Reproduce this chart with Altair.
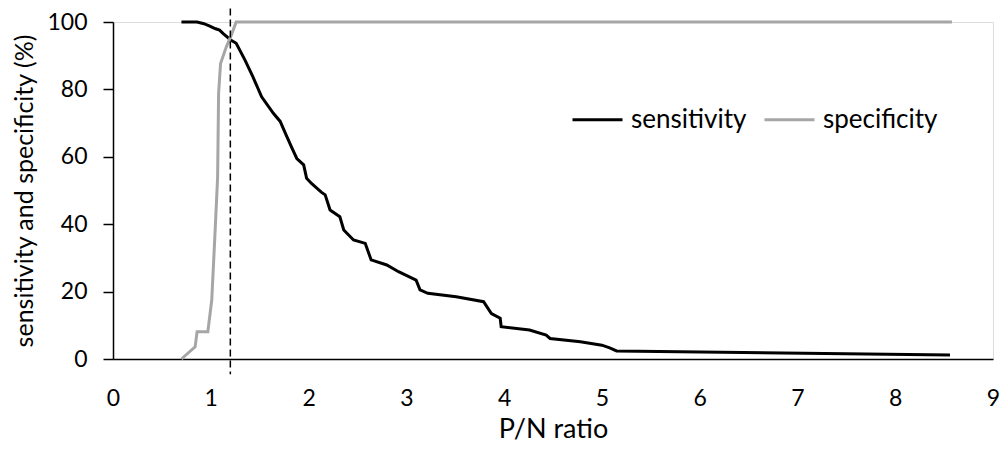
import altair as alt
import pandas as pd

# sensitivity curve (P/N ratio vs %)
sens_x = [0.70, 0.86, 0.93, 0.99, 1.05, 1.09, 1.13, 1.17, 1.20, 1.26, 1.35, 1.43, 1.52,
          1.64, 1.71, 1.77, 1.84, 1.88, 1.95, 1.98, 2.03, 2.13, 2.17, 2.22, 2.32, 2.36,
          2.46, 2.58, 2.64, 2.80, 2.92, 3.10, 3.14, 3.22, 3.51, 3.79, 3.87, 3.96, 3.97,
          4.26, 4.43, 4.47, 4.78, 5.00, 5.08, 5.15, 8.56]
sens_y = [100, 100, 99.5, 98.8, 98.0, 97.6, 96.5, 95.5, 94.7, 93.7, 88.7, 83.8, 77.8,
          72.9, 70.5, 66.5, 62.0, 59.5, 57.6, 53.6, 52.1, 49.5, 48.7, 44.2, 42.2, 38.3,
          35.3, 34.3, 29.4, 27.9, 25.9, 23.4, 20.5, 19.5, 18.5, 17.0, 13.5, 12.1, 9.6,
          8.6, 7.1, 6.1, 5.1, 4.1, 3.3, 2.4, 1.2]

# specificity curve
spec_x = [0.70, 0.84, 0.86, 0.97, 1.01, 1.03, 1.04, 1.07, 1.08, 1.10, 1.16, 1.21, 1.26, 8.58]
spec_y = [0, 3.6, 8.1, 8.1, 17.5, 29.4, 35.3, 54.0, 78.8, 87.7, 92.7, 96.1, 100, 100]

series_names = ["sensitivity", "specificity"]
series_colors = ["#000000", "#a6a6a6"]
x_ticks = [0, 1, 2, 3, 4, 5, 6, 7, 8, 9]
y_ticks = [0, 20, 40, 60, 80, 100]
cutoff = [1.2]
cutoff_span = [104, -4.5]

df = pd.DataFrame({
    "x": sens_x + spec_x,
    "y": sens_y + spec_y,
    "series": ["sensitivity"] * len(sens_x) + ["specificity"] * len(spec_x),
})

FONT = "Lato"

lines = alt.Chart(df).mark_line(strokeWidth=3).encode(
    x=alt.X("x:Q", scale=alt.Scale(domain=[0, 9], nice=False),
            axis=alt.Axis(title="P/N ratio", values=x_ticks, format="d", ticks=False,
                          grid=False, domainColor="black", domainWidth=1.5,
                          labelFlush=False, labelOverlap=False,
                          labelFontSize=23, labelColor="black", labelPadding=28,
                          labelFont=FONT, titleFont=FONT, titleFontSize=27,
                          titleFontWeight="normal", titleColor="black", titlePadding=6)),
    y=alt.Y("y:Q", scale=alt.Scale(domain=[0, 100], nice=False),
            axis=alt.Axis(title="sensitivity and specificity (%)", values=y_ticks,
                          grid=False, ticks=True, tickSize=10, tickColor="black", tickWidth=1.5,
                          domainColor="black", domainWidth=1.5,
                          labelFontSize=23, labelColor="black", labelPadding=16,
                          labelFont=FONT, titleFont=FONT, titleFontSize=25,
                          titleFontWeight="normal", titleColor="black", titlePadding=9)),
    color=alt.Color("series:N",
                    scale=alt.Scale(domain=series_names, range=series_colors),
                    legend=alt.Legend(title=None, orient="none", direction="horizontal",
                                      legendX=458, legendY=71, symbolType="stroke",
                                      symbolSize=2500, symbolStrokeWidth=3,
                                      labelFont=FONT, labelFontSize=26, labelColor="black",
                                      labelOffset=7, columnPadding=11)),
)

rule_df = pd.DataFrame({"x": cutoff, "y1": [cutoff_span[0]], "y2": [cutoff_span[1]]})
rule = alt.Chart(rule_df).mark_rule(color="black", strokeWidth=1.5, strokeDash=[7, 4]).encode(
    x="x:Q", y="y1:Q", y2="y2:Q"
)

chart = alt.layer(lines, rule).properties(
    width=880, height=337,
    autosize=alt.AutoSizeParams(type="none"),
    padding={"left": 105, "top": 14, "right": 7, "bottom": 90},
).configure_view(stroke=None).configure(font=FONT)

chart.save("out.html", embed_options={"renderer": "svg", "actions": False})
